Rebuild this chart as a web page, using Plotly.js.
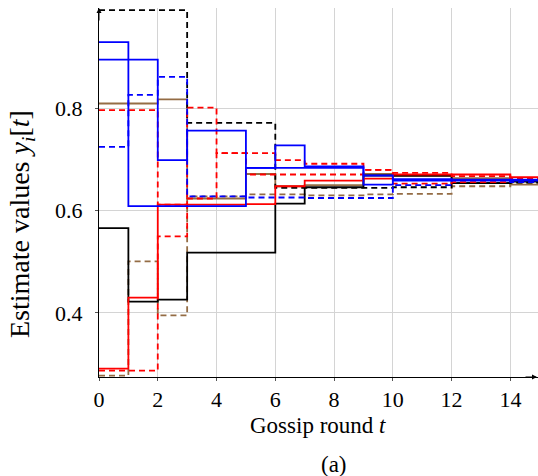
<!DOCTYPE html>
<html>
<head>
<meta charset="utf-8">
<script src="https://cdn.plot.ly/plotly-3.0.1.min.js"></script>
<style>
html,body{margin:0;padding:0;background:#fff;}
#chart{width:538px;height:476px;}
</style>
</head>
<body>
<div id="chart"></div>
<script>
// gossip rounds
const rounds = [0,1,2,3,4,5,6,7,8,9,10,11,12,13,14,15];

// estimate values per node (value held during [t, t+1))
const blackDashed = [0.993,0.993,0.993,0.772,0.772,0.772,0.645,0.645,0.645,0.645,0.646,0.646,0.654,0.654,0.655,0.655];
const blueSolidA  = [0.930,0.609,0.609,0.609,0.609,0.684,0.728,0.687,0.687,0.669,0.659,0.659,0.661,0.661,0.659,0.659];
const blueSolidB  = [0.896,0.896,0.699,0.757,0.757,0.684,0.684,0.684,0.684,0.651,0.662,0.662,0.659,0.659,0.661,0.661];
const brownSolid  = [0.810,0.810,0.818,0.624,0.624,0.672,0.648,0.650,0.650,0.672,0.668,0.668,0.664,0.664,0.651,0.651];
const redDashedA  = [0.797,0.797,0.612,0.802,0.713,0.713,0.699,0.692,0.692,0.680,0.674,0.674,0.668,0.668,0.664,0.664];
const blueDashed  = [0.725,0.827,0.862,0.628,0.628,0.626,0.626,0.625,0.625,0.625,0.650,0.650,0.660,0.660,0.656,0.656];
const blackSolid  = [0.566,0.422,0.426,0.518,0.518,0.518,0.614,0.646,0.646,0.669,0.669,0.669,0.654,0.654,0.657,0.657];
const redSolid    = [0.291,0.430,0.612,0.612,0.612,0.613,0.648,0.659,0.659,0.663,0.671,0.671,0.671,0.671,0.666,0.666];
const redDashedB  = [0.287,0.287,0.550,0.624,0.713,0.671,0.671,0.671,0.671,0.680,0.653,0.653,0.656,0.656,0.661,0.661];
const brownDashed = [0.277,0.501,0.395,0.628,0.628,0.632,0.632,0.630,0.630,0.632,0.633,0.633,0.648,0.648,0.652,0.652];

const xTicks = [0,2,4,6,8,10,12,14];
const yTicks = [0.4,0.6,0.8];
const yTickText = ['0.4','0.6','0.8'];

const BROWN = '#946c44';
const DASH = '6px,4px';
const W = 1.8;

function tr(y, color, dash){
  return {x: rounds, y: y, type:'scatter', mode:'lines',
    line:{shape:'hv', color: color, width: W, dash: dash},
    hoverinfo:'skip', showlegend:false};
}

const data = [
  tr(brownDashed, BROWN, DASH),
  tr(brownSolid, BROWN, 'solid'),
  tr(blackDashed, '#000000', DASH),
  tr(blackSolid, '#000000', 'solid'),
  tr(redDashedA, '#ff0000', DASH),
  tr(redDashedB, '#ff0000', DASH),
  tr(redSolid, '#ff0000', 'solid'),
  tr(blueDashed, '#0000ff', DASH),
  tr(blueSolidA, '#0000ff', 'solid'),
  tr(blueSolidB, '#0000ff', 'solid')
];

const FAM = '"Liberation Serif", "Times New Roman", serif';
const FONT = {family:FAM, size:22, color:'#000'};
const XTFONT = {family:FAM, size:23, color:'#000'};
const YTFONT = {family:FAM, size:28, color:'#000'};

const layout = {
  width:538, height:476,
  margin:{l:99, r:0, t:8, b:99, pad:0},
  paper_bgcolor:'#fff', plot_bgcolor:'#fff',
  font: FONT,
  xaxis:{
    range:[0,14.94], tickvals:xTicks, ticktext:xTicks.map(String),
    showgrid:true, gridcolor:'#d4d4d4', gridwidth:1,
    zeroline:false, showline:true, linecolor:'#000', linewidth:1,
    ticks:'outside', ticklen:3, tickcolor:'#555', tickfont:FONT,
    fixedrange:true
  },
  yaxis:{
    range:[0.2745,0.997], tickvals:yTicks, ticktext:yTickText,
    showgrid:true, gridcolor:'#d4d4d4', gridwidth:1,
    zeroline:false, showline:true, linecolor:'#000', linewidth:1,
    ticks:'outside', ticklen:3, tickcolor:'#555', tickfont:FONT,
    ticklabelstandoff:8,
    fixedrange:true
  },
  annotations:[
    {xref:'paper', yref:'paper', x:0, y:1, ax:0, ay:14, text:'', showarrow:true,
     arrowhead:2, arrowsize:1, arrowwidth:1, arrowcolor:'#000'},
    {xref:'paper', yref:'paper', x:1, y:0, ax:-14, ay:0, text:'', showarrow:true,
     arrowhead:2, arrowsize:1, arrowwidth:1, arrowcolor:'#000'},
    {xref:'paper', yref:'paper', x:(318-99)/439, y:(476-99-425)/369, xanchor:'center', yanchor:'middle',
     text:'Gossip round <i>t</i>', showarrow:false, font:XTFONT},
    {xref:'paper', yref:'paper', x:(334-99)/439, y:(476-99-464)/369, xanchor:'center', yanchor:'middle',
     text:'(a)', showarrow:false, font:XTFONT},
    {xref:'paper', yref:'paper', x:(21-99)/439, y:(476-99-224)/369, xanchor:'center', yanchor:'middle',
     textangle:-90, text:'Estimate values <i>y</i><sub><i>i</i></sub>[<i>t</i>]', showarrow:false, font:YTFONT}
  ]
};

Plotly.newPlot('chart', data, layout, {displayModeBar:false, staticPlot:true});
</script>
</body>
</html>
